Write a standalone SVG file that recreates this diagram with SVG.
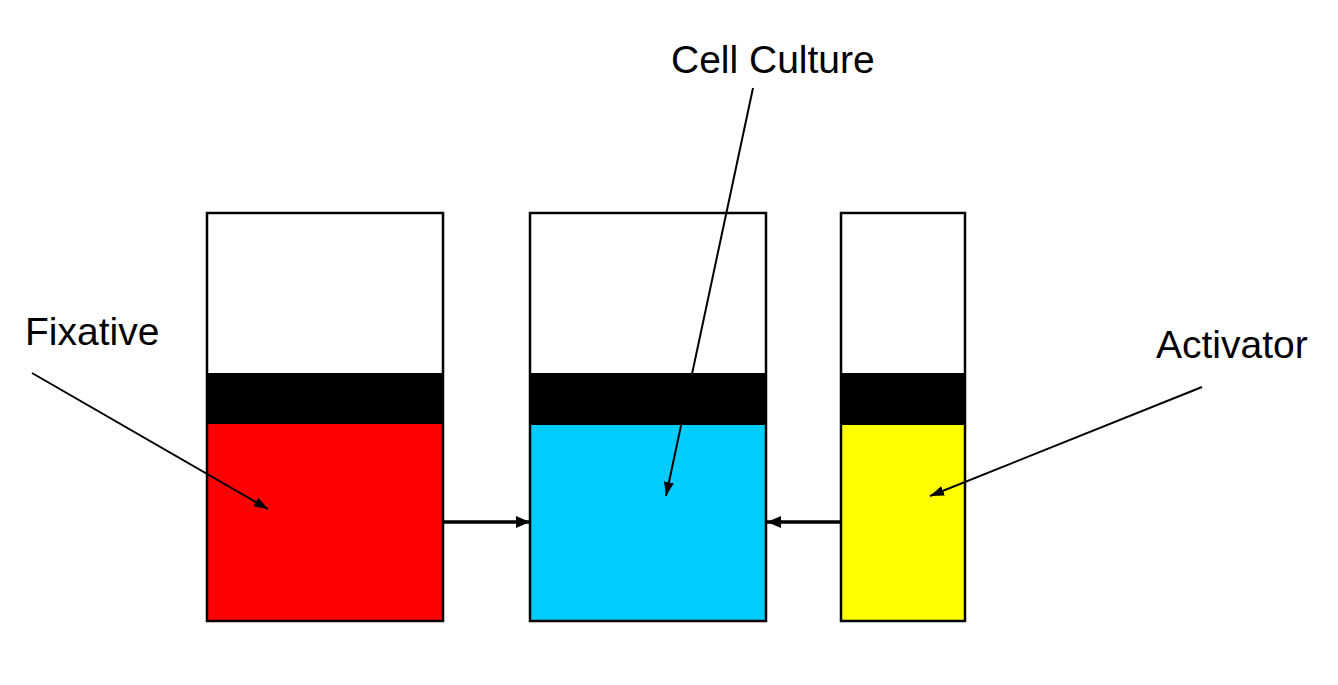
<svg xmlns="http://www.w3.org/2000/svg" width="1338" height="685" viewBox="0 0 1338 685">
<style>
.lbl{font-family:"Liberation Sans",Arial,sans-serif;font-size:39px;fill:#000}
.box{fill:none;stroke:#000;stroke-width:2.5}
.band{fill:#000}
.thin{stroke:#000;stroke-width:2;fill:none}
.thick{stroke:#000;stroke-width:3.5;fill:none}
</style>
<defs>
<marker id="ah" viewBox="0 0 14 10" refX="14" refY="5" markerWidth="14" markerHeight="10" markerUnits="userSpaceOnUse" orient="auto">
<path d="M0,0 L14,5 L0,10 Z" fill="#000"/>
</marker>
<marker id="ah2" viewBox="0 0 14 12" refX="14" refY="6" markerWidth="14" markerHeight="12" markerUnits="userSpaceOnUse" orient="auto">
<path d="M0,0 L14,6 L0,12 Z" fill="#000"/>
</marker>
</defs>
<rect width="1338" height="685" fill="#fff"/>
<g id="fixative-tube">
<rect x="207" y="423" width="236" height="198" fill="#ff0000"/>
<rect class="band" x="207" y="373" width="236" height="51"/>
<rect class="box" x="207" y="213" width="236" height="408"/>
</g>
<g id="culture-tube">
<rect x="530" y="424" width="236" height="197" fill="#00ccff"/>
<rect class="band" x="530" y="373" width="236" height="52"/>
<rect class="box" x="530" y="213" width="236" height="408"/>
</g>
<g id="activator-tube">
<rect x="841" y="424" width="124" height="197" fill="#ffff00"/>
<rect class="band" x="841" y="373" width="124" height="52"/>
<rect class="box" x="841" y="213" width="124" height="408"/>
</g>
<g id="label-fixative"><text class="lbl" x="25" y="345">Fixative</text></g>
<g id="label-culture"><text class="lbl" x="671" y="73">Cell Culture</text></g>
<g id="label-activator"><text class="lbl" x="1156" y="358">Activator</text></g>
<g id="connectors">
<line class="thin" x1="32" y1="373" x2="268" y2="509" marker-end="url(#ah)"/>
<line class="thin" x1="753" y1="88" x2="666" y2="496" marker-end="url(#ah)"/>
<line class="thin" x1="1202" y1="387" x2="930" y2="496" marker-end="url(#ah)"/>
<line class="thick" x1="443" y1="522" x2="530" y2="522" marker-end="url(#ah2)"/>
<line class="thick" x1="841" y1="522" x2="767" y2="522" marker-end="url(#ah2)"/>
</g>
</svg>
